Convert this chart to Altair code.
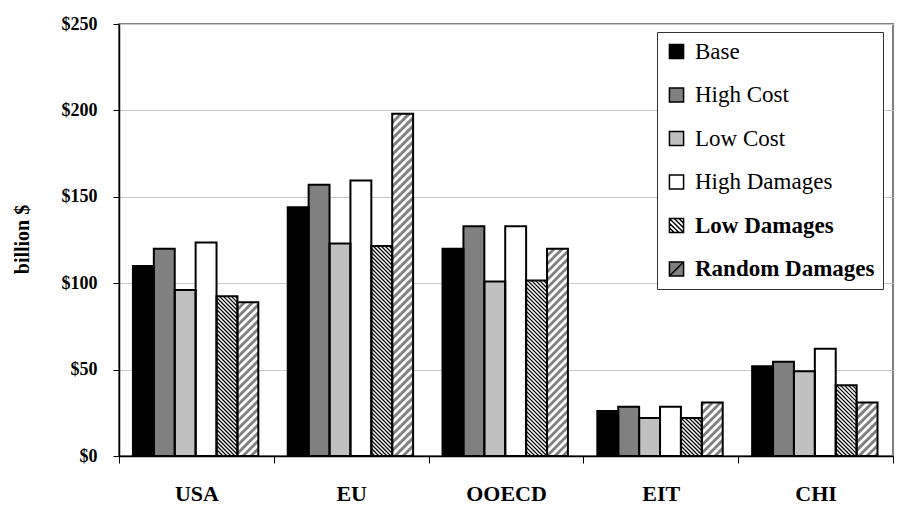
import math
import altair as alt
import pandas as pd

# ---------------- data ----------------
regions = ["USA", "EU", "OOECD", "EIT", "CHI"]
series = ["Base", "High Cost", "Low Cost", "High Damages", "Low Damages", "Random Damages"]
base = [110, 144, 120, 26, 52]
high_cost = [120, 157, 133, 28.5, 54.5]
low_cost = [96, 123, 101, 22, 49]
high_damages = [123.5, 159.5, 133, 28.5, 62]
low_damages = [92.5, 121.5, 101.5, 22, 41]
random_damages = [89, 198, 120, 31, 31]
y_ticks = [0, 50, 100, 150, 200, 250]

values = [base, high_cost, low_cost, high_damages, low_damages, random_damages]
fills = ["#000000", "#808080", "#c0c0c0", "#ffffff", "#ffffff", "#808080"]

# ---------------- layout ----------------
W, H = 774, 432
YMAX = 250
GROUP_START = 0.09
BAR_W = 0.135
FONT = "Liberation Serif"

rows = []
for j, s in enumerate(series):
    for i, r in enumerate(regions):
        x0 = i + GROUP_START + j * BAR_W
        rows.append({"region": r, "series": s, "value": values[j][i], "zero": 0,
                     "x0": x0, "x1": x0 + BAR_W})
bars = pd.DataFrame(rows)

px_x = W / len(regions)
px_y = H / YMAX


def hatch(df, period, direction):
    out = []
    for row in df.itertuples():
        u0, u1, hh = row.x0 * px_x, row.x1 * px_x, row.value * px_y
        if direction == "back":  # "\" : u + v = c
            for k in range(math.ceil(u0 / period), math.floor((u1 + hh) / period) + 1):
                c = k * period
                ua, ub = max(u0, c - hh), min(u1, c)
                if ub - ua > 0.3:
                    out.append({"hx": ua / px_x, "hy": (c - ua) / px_y,
                                "hx2": ub / px_x, "hy2": (c - ub) / px_y})
        else:  # "/" : u - v = c
            for k in range(math.ceil((u0 - hh) / period), math.floor(u1 / period) + 1):
                c = k * period
                ua, ub = max(u0, c), min(u1, c + hh)
                if ub - ua > 0.3:
                    out.append({"hx": ua / px_x, "hy": (ua - c) / px_y,
                                "hx2": ub / px_x, "hy2": (ub - c) / px_y})
    return pd.DataFrame(out)


hatch_low = hatch(bars[bars.series == "Low Damages"], 4.0, "back")
hatch_rand = hatch(bars[bars.series == "Random Damages"], 8.0, "fwd")

sq = "M-1,-1H1V1H-1Z"
shapes = [
    sq, sq, sq, sq,
    sq + " M-1,-1L1,1 M-0.33,-1L1,0.33 M-1,-0.33L0.33,1 M0.33,-1L1,-0.33 M-1,0.33L-0.33,1",
    sq + " M-1,1L1,-1",
]
strokes = ["#000000"] * len(series)

legend = alt.Legend(
    title=None, orient="none", legendX=538, legendY=8, padding=8,
    strokeColor="#333333", fillColor="white",
    labelFont=FONT, labelFontSize=23, labelColor="black", labelLimit=400,
    labelFontWeight={"expr": "(datum.label == 'Low Damages' || datum.label == 'Random Damages') ? 'bold' : 'normal'"},
    symbolSize=200, symbolStrokeWidth=1.5,
    symbolOpacity=1, rowPadding=19.5, labelOffset=7,
)

yaxis = alt.Axis(values=y_ticks, labelExpr="'$' + datum.value", labelFont=FONT,
                 labelFontSize=18, labelFontWeight="bold", labelColor="black",
                 labelPadding=16, tickSize=6, tickColor="black", domainColor="black",
                 domainWidth=1.5, grid=True, gridColor="#c8c8c8", gridWidth=1,
                 title="billion $", titleFont=FONT, titleFontSize=20,
                 titleFontWeight="bold", titleColor="black", titleAngle=270,
                 titleBaseline="middle", titleX=-97, titleY=215)
yscale = alt.Scale(domain=[0, YMAX], nice=False)
xscale = alt.Scale(domain=[0, len(regions)], nice=False, zero=False)

bar_layer = alt.Chart(bars).mark_rect().encode(
    x=alt.X("x0:Q", scale=xscale, axis=None),
    x2="x1",
    y=alt.Y("value:Q", scale=yscale, axis=yaxis, title="billion $"),
    y2="zero",
    fill=alt.Fill("series:N", sort=series,
                  scale=alt.Scale(domain=series, range=fills), legend=None),
)

low_layer = alt.Chart(hatch_low).mark_rule(color="black", strokeWidth=1.3).encode(
    x=alt.X("hx:Q", scale=xscale, axis=None), x2="hx2",
    y=alt.Y("hy:Q", scale=yscale, axis=yaxis, title="billion $"), y2="hy2",
)

rand_layer = alt.Chart(hatch_rand).mark_rule(color="white", strokeWidth=2.8).encode(
    x=alt.X("hx:Q", scale=xscale, axis=None), x2="hx2",
    y=alt.Y("hy:Q", scale=yscale, axis=yaxis, title="billion $"), y2="hy2",
)

outline_layer = alt.Chart(bars).mark_rect(fillOpacity=0, stroke="black", strokeWidth=2).encode(
    x=alt.X("x0:Q", scale=xscale, axis=None),
    x2="x1",
    y=alt.Y("value:Q", scale=yscale, axis=yaxis, title="billion $"),
    y2="zero",
)

legend_pts = pd.DataFrame({"entry": series, "value": [0] * len(series),
                           "x0": [0] * len(series)})
point_layer = alt.Chart(legend_pts).mark_point(filled=True, size=0, strokeWidth=1.5).encode(
    x=alt.X("x0:Q", scale=xscale, axis=None),
    y=alt.Y("value:Q", scale=yscale, axis=yaxis, title="billion $"),
    fill=alt.Fill("entry:N", sort=series,
                  scale=alt.Scale(domain=series, range=fills), legend=legend),
    shape=alt.Shape("entry:N", sort=series,
                    scale=alt.Scale(domain=series, range=shapes), legend=legend),
    stroke=alt.Stroke("entry:N", sort=series,
                      scale=alt.Scale(domain=series, range=strokes), legend=legend),
)

inner = alt.layer(bar_layer, low_layer, rand_layer, outline_layer, point_layer).resolve_scale(
    fill="independent", shape="independent", stroke="independent"
)

axis_layer = alt.Chart(pd.DataFrame({"region": regions})).mark_bar(opacity=0).encode(
    x=alt.X("region:N", sort=regions,
            scale=alt.Scale(domain=regions, paddingInner=0, paddingOuter=0),
            axis=alt.Axis(title=None, labelAngle=0, labelFont=FONT, labelFontSize=22,
                          labelFontWeight="bold", labelColor="black", tickBand="extent",
                          tickSize=7, tickColor="black", domainColor="black",
                          domainWidth=1.5, labelPadding=20)),
)

chart = alt.layer(axis_layer, inner).resolve_scale(x="independent").properties(
    width=W, height=H,
    padding={"left": 119, "top": 24, "right": 6, "bottom": 62},
    autosize=alt.AutoSizeParams(type="none"),
    background="white",
).configure_view(stroke="#808080", strokeWidth=2)

chart.save("out.html", embed_options={"renderer": "svg", "actions": False})
